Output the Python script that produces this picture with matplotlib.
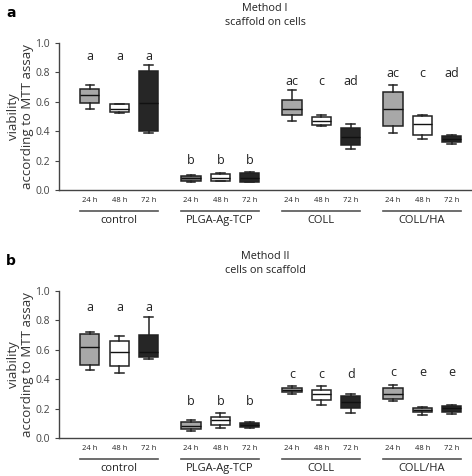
import matplotlib
matplotlib.use("Agg")
import matplotlib.pyplot as plt
from matplotlib.transforms import blended_transform_factory

plt.rcParams["font.family"] = ["Open Sans", "DejaVu Sans"]

GROUPS = ["control", "PLGA-Ag-TCP", "COLL", "COLL/HA"]
TIMES = ["24 h", "48 h", "72 h"]

# five-number summaries: (whislo, q1, med, q3, whishi)
METHOD_I = [
    (0.553, 0.590, 0.646, 0.689, 0.714), (0.520, 0.531, 0.553, 0.583, 0.585), (0.390, 0.403, 0.594, 0.810, 0.846),
    (0.055, 0.063, 0.079, 0.095, 0.100), (0.058, 0.061, 0.084, 0.111, 0.113), (0.052, 0.056, 0.080, 0.118, 0.122),
    (0.471, 0.508, 0.551, 0.608, 0.678), (0.437, 0.444, 0.469, 0.497, 0.510), (0.277, 0.306, 0.363, 0.424, 0.451),
    (0.386, 0.435, 0.551, 0.664, 0.716), (0.347, 0.374, 0.451, 0.501, 0.510), (0.313, 0.329, 0.347, 0.365, 0.374),
]
METHOD_II = [
    (0.465, 0.497, 0.615, 0.707, 0.717), (0.440, 0.492, 0.583, 0.660, 0.696), (0.535, 0.551, 0.583, 0.703, 0.821),
    (0.048, 0.059, 0.082, 0.109, 0.122), (0.066, 0.091, 0.120, 0.143, 0.170), (0.066, 0.072, 0.086, 0.100, 0.108),
    (0.302, 0.311, 0.329, 0.342, 0.356), (0.227, 0.259, 0.302, 0.327, 0.356), (0.172, 0.202, 0.247, 0.283, 0.297),
    (0.252, 0.265, 0.302, 0.342, 0.363), (0.154, 0.177, 0.193, 0.204, 0.211), (0.166, 0.179, 0.202, 0.220, 0.227),
]
LETTERS_I = ["a", "a", "a", "b", "b", "b", "ac", "c", "ad", "ac", "c", "ad"]
LETTERS_II = ["a", "a", "a", "b", "b", "b", "c", "c", "d", "c", "e", "e"]
LETTER_Y_I = [0.91, 0.91, 0.91, 0.20, 0.20, 0.20, 0.74, 0.74, 0.74, 0.79, 0.79, 0.79]
LETTER_Y_II = [0.89, 0.89, 0.89, 0.25, 0.25, 0.25, 0.43, 0.43, 0.43, 0.445, 0.445, 0.445]

GREY, WHITE, DARK = "#a8a8a8", "#ffffff", "#262626"
FILLS_I = [GREY, WHITE, DARK, "#7a7a7a", WHITE, DARK, GREY, WHITE, DARK, GREY, WHITE, DARK]
FILLS_II = [GREY, WHITE, DARK, GREY, WHITE, DARK, GREY, WHITE, DARK, GREY, GREY, DARK]

GROUP_STEP = 3.43
POSITIONS = [g * GROUP_STEP + i for g in range(len(GROUPS)) for i in range(len(TIMES))]


def draw_panel(ax, data, fills, letters, letter_y, tag, title):
    stats = [dict(whislo=lo, q1=q1, med=md, q3=q3, whishi=hi, fliers=[])
             for lo, q1, md, q3, hi in data]
    bp = ax.bxp(stats, positions=POSITIONS, widths=0.65, patch_artist=True,
                showfliers=False,
                boxprops=dict(edgecolor="#222222", linewidth=1.1),
                medianprops=dict(color="#111111", linewidth=1.0),
                whiskerprops=dict(color="#222222", linewidth=1.1),
                capprops=dict(color="#222222", linewidth=1.1),
                capwidths=0.3)
    for patch, fc in zip(bp["boxes"], fills):
        patch.set_facecolor(fc)

    for x, lab, y in zip(POSITIONS, letters, letter_y):
        ax.text(x, y, lab, ha="center", va="center", fontsize=9, color="#222222")

    ax.set_xlim(-1.05, POSITIONS[-1] + 0.65)
    ax.set_ylim(0, 1.0)
    ax.set_yticks([0.0, 0.2, 0.4, 0.6, 0.8, 1.0])
    ax.set_yticklabels([f"{v:.1f}" for v in [0.0, 0.2, 0.4, 0.6, 0.8, 1.0]])
    ax.tick_params(axis="y", labelsize=7.5, colors="#444444", length=3, width=0.8)
    ax.set_xticks(POSITIONS)
    ax.set_xticklabels(TIMES * len(GROUPS))
    ax.tick_params(axis="x", labelsize=5.5, length=0, pad=5, colors="#222222")
    for s in ("top", "right"):
        ax.spines[s].set_visible(False)
    for s in ("left", "bottom"):
        ax.spines[s].set_color("#444444")
        ax.spines[s].set_linewidth(1.0)

    ax.set_ylabel("viability\naccording to MTT assay", fontsize=9.5, color="#333333",
                  linespacing=1.1)
    ax.yaxis.set_label_coords(-0.06, 0.5)

    trans = blended_transform_factory(ax.transData, ax.transAxes)
    for g, name in enumerate(GROUPS):
        x0 = POSITIONS[g * 3] - 0.35
        x1 = POSITIONS[g * 3 + 2] + 0.3
        ax.plot([x0, x1], [-0.143, -0.143], transform=trans, color="#555555",
                linewidth=1.2, clip_on=False)
        ax.text((x0 + x1) / 2, -0.205, name, transform=trans, ha="center",
                va="center", fontsize=8, color="#222222")

    ax.text(-0.128, 1.2, tag, transform=ax.transAxes, fontsize=10,
            fontweight="bold", family="DejaVu Sans", ha="left", va="center")
    ax.text(0.5, 1.185, title, transform=ax.transAxes, fontsize=7.8,
            ha="center", va="center", linespacing=1.35, color="#222222")


fig = plt.figure(figsize=(4.72, 4.76), dpi=100)
ax1 = fig.add_axes([0.125, 0.601, 0.873, 0.309])
ax2 = fig.add_axes([0.125, 0.080, 0.873, 0.309])

draw_panel(ax1, METHOD_I, FILLS_I, LETTERS_I, LETTER_Y_I, "a", "Method I\nscaffold on cells")
draw_panel(ax2, METHOD_II, FILLS_II, LETTERS_II, LETTER_Y_II, "b", "Method II\ncells on scaffold")

fig.savefig("out.png", dpi=100)
